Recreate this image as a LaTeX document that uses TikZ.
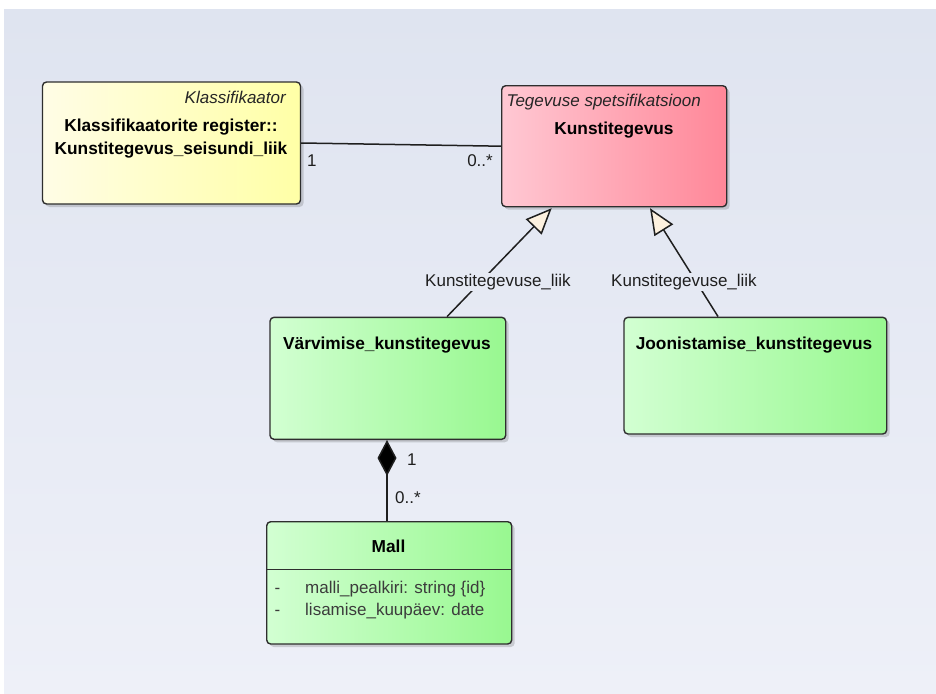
\documentclass[tikz,border=0pt]{standalone}
\usepackage{fontspec}
\setmainfont{Liberation Sans}
\usetikzlibrary{arrows.meta,shadows,calc}

\definecolor{panelTop}{HTML}{DFE4F0}
\definecolor{panelBot}{HTML}{EEF0F8}
\definecolor{labelBg}{HTML}{E5E9F3}
\definecolor{boxLine}{HTML}{2E2E2E}
\definecolor{yellowL}{HTML}{FFFDE6}
\definecolor{yellowR}{HTML}{FFFFA6}
\definecolor{pinkL}{HTML}{FFC8D3}
\definecolor{pinkR}{HTML}{FF8798}
\definecolor{greenL}{HTML}{D2FFD2}
\definecolor{greenR}{HTML}{98F890}
\definecolor{arrowFill}{HTML}{FDF1DF}
\definecolor{attrText}{HTML}{3C3C3C}

\begin{document}
\begin{tikzpicture}[x=1pt,y=-1pt,
  classbox/.style={draw=boxLine, line width=1.4pt, rounded corners=4pt,
    inner sep=0pt,
    drop shadow={shadow xshift=3pt, shadow yshift=-3pt, opacity=.22, fill=black!70}},
  yellowbox/.style={classbox, left color=yellowL, right color=yellowR},
  pinkbox/.style={classbox, left color=pinkL, right color=pinkR},
  greenbox/.style={classbox, left color=greenL, right color=greenR},
  classname/.style={font=\bfseries\fontsize{17.3}{20}\selectfont, text=black, inner sep=0pt, anchor=mid},
  stereo/.style={font=\itshape\fontsize{17}{20}\selectfont, text=black!85, inner sep=0pt},
  conlabel/.style={font=\fontsize{17}{20}\selectfont, text=black!88, inner sep=1pt},
  attr/.style={font=\fontsize{17}{20}\selectfont, text=attrText, inner sep=0pt, anchor=mid west},
  connector/.style={draw=black!88, line width=1.5pt},
  general/.style={connector, -{Triangle[length=26pt, width=22pt, fill=arrowFill]}},
  compose/.style={connector, {Diamond[length=36pt, width=19pt, fill=black]}-}
]
\useasboundingbox (0,0) rectangle (936,693);
\fill[white] (0,0) rectangle (936,693);
\shade[top color=panelTop, bottom color=panelBot] (4,10) rectangle (936,693);

% class boxes
\node[yellowbox, minimum width=258, minimum height=122] (kl) at (171.5,143) {};
\node[pinkbox, minimum width=225, minimum height=121] (ku) at (614.2,146.2) {};
\node[greenbox, minimum width=235.7, minimum height=122] (va) at (387.85,378.3) {};
\node[greenbox, minimum width=262.7, minimum height=116.7] (jo) at (755.35,375.65) {};
\node[greenbox, minimum width=245, minimum height=122.3] (ma) at (389.2,582.85) {};

% box texts
\node[stereo, anchor=mid east] (klstereo) at (286,100.5) {Klassifikaator};
\node[classname] (klname1) at (171,128.5) {Klassifikaatorite register::};
\node[classname] (klname2) at (171,151.8) {Kunstitegevus\_seisundi\_liik};

\node[stereo, anchor=mid west] (kustereo) at (506.5,103.5) {Tegevuse spetsifikatsioon};
\node[classname] (kuname) at (614,131.5) {Kunstitegevus};

\node[classname] (vaname) at (387,346.8) {Värvimise\_kunstitegevus};
\node[classname] (joname) at (754,346.8) {Joonistamise\_kunstitegevus};

\node[classname] (maname) at (388.5,550.2) {Mall};
\draw[draw=boxLine, line width=1.2pt] (ma.west |- 0,569.3) coordinate (sepl) -- (ma.east |- 0,569.3) coordinate (sepr);
\node[attr, text=attrText] (mavis1) at (274.5,590.8) {-};
\node[attr] (maattr1) at (305,590.8) {malli\_pealkiri: string \{id\}};
\node[attr, text=attrText] (mavis2) at (274.5,612.8) {-};
\node[attr] (maattr2) at (305,612.8) {lisamise\_kuupäev: date};

% association
\draw[connector] (kl.east) -- (ku.west);
\node[conlabel, anchor=mid west] (mult1) at (306,163.5) {1};
\node[conlabel, anchor=mid east] (mult2) at (494,163.5) {0..*};

% generalizations
\draw[general] ($(va.north)+(59.2,0)$) -- ($(ku.south)+(-62.5,0.8)$);
\draw[general] ($(jo.north)+(-37.3,0)$) -- ($(ku.south)+(35.8,0.8)$);
\node[conlabel, fill=labelBg] (gl1) at (498,282) {Kunstitegevuse\_liik};
\node[conlabel, fill=labelBg] (gl2) at (684,282) {Kunstitegevuse\_liik};

% composition
\draw[compose] (va.south -| 387,0) -- (ma.north -| 387,0);
\node[conlabel, anchor=mid west] (mult3) at (406,462.5) {1};
\node[conlabel, anchor=mid west] (mult4) at (394,500.5) {0..*};
\end{tikzpicture}
\end{document}
